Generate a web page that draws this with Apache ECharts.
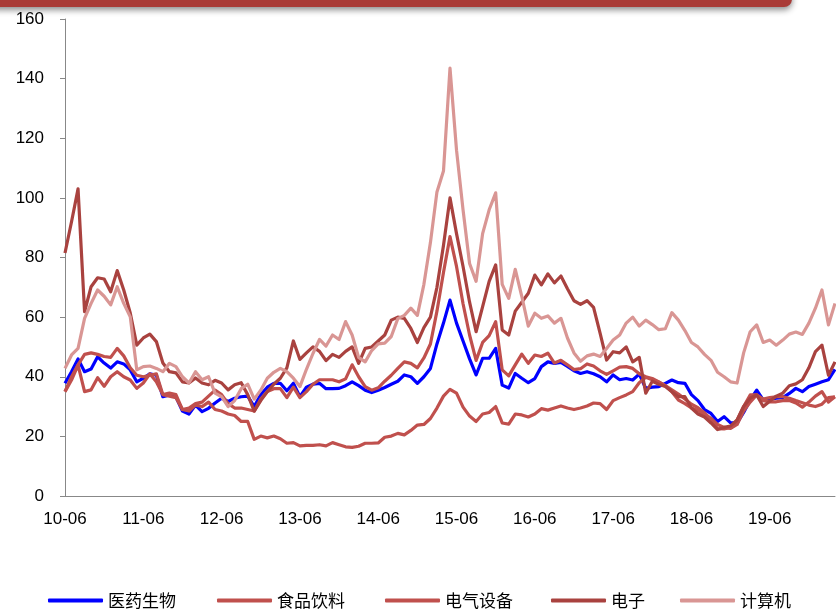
<!DOCTYPE html>
<html><head><meta charset="utf-8">
<script src="https://cdn.jsdelivr.net/npm/echarts@6/dist/echarts.min.js"></script>
<style>html,body{margin:0;padding:0;background:#fff}#c{width:836px;height:609px}</style>
</head><body><div id="c"></div>
<script>
// Monthly categories 2010-06 .. 2020-04
const startYear = 2010, startMonth = 6, nPoints = 119;
const categories = [];
for (let i = 0; i < nPoints; i++) {
  const m = startMonth - 1 + i;
  const y = startYear + Math.floor(m / 12);
  const mm = (m % 12) + 1;
  categories.push(String(y).slice(2) + '-' + (mm < 10 ? '0' + mm : mm));
}
const tickLabels = ['10-06','11-06','12-06','13-06','14-06','15-06','16-06','17-06','18-06','19-06'];
const yTicks = [0, 20, 40, 60, 80, 100, 120, 140, 160];

const names = ['医药生物','食品饮料','电气设备','电子','计算机'];

const yiyao = [37.8,41.7,46,41.7,42.6,46.7,44.6,42.9,45,44.3,42.3,38.3,39.5,41,40.5,33.3,33.9,33.3,28.5,27.5,
30.5,28.3,29.4,31.2,32.8,31.7,32.8,33.3,33.5,30,34,36.5,37.8,37.8,35.3,37.8,33.3,36.5,37.5,37.8,
36,36,36.1,37,38.3,37,35.5,34.7,35.5,36.4,37.5,38.5,40.6,40,37.8,40,42.8,51,58,65.7,
58,52,46,40.6,46.2,46.2,49.5,37.2,36.2,41.1,39.5,38,39.4,43.4,45,44.5,44.8,43.5,42,41.1,
41.7,41,40,38.3,40.6,39,39.4,38.9,40.9,36.1,36.5,36.7,37.8,38.9,38,37.8,34,32,29,27.7,
25,26.6,24.5,24.5,28,32.2,35.5,32.2,32.4,32.8,33,34.4,36.1,35,36.7,37.5,38.3,39,42.5];

const shipin = [35,38.9,43.9,35,35.6,39.7,36.8,40,41.7,40,38.9,36.1,37.9,41,38.3,34,33.5,33,29,28.5,
30.5,30,31.5,29,28.5,27.5,27,25,25,19,20.1,19.5,20.1,19.2,17.7,17.9,16.8,17,17,17.2,
16.8,17.9,17.2,16.5,16.3,16.7,17.7,17.7,17.8,19.7,20.1,21,20.5,22,23.8,24,26,29.5,33.5,35.8,
34.5,29.8,26.8,25,27.5,28,30,24.5,24.1,27.5,27.2,26.5,27.5,29.3,28.8,29.5,30.2,29.5,29,29.5,
30.2,31.2,31,29,32,33,33.9,35,38,39.8,39,38.2,37,35,32.2,31,29.5,28.7,27.2,26,
24,23,22.7,24,28.5,31.5,33.9,32,31.6,31.6,32,32,31.2,29.8,31.5,33.5,35,31.5,33.3];

const dianqi = [35,40,44,47.5,48,47.5,46.8,46.5,49.5,47,43,40.5,40,40.5,41,34,34.5,34,29,29.5,
31,31.5,33.5,35.5,34,31,29.5,29.5,29,28.5,32.5,35,36,36,33,36.5,33,35,37.5,39,
39,39,38.3,39.3,44,40,36.7,35.5,36.3,38.5,40.5,42.8,45,44.5,43,46.3,51,62,75,87,
77,64.5,54,45.5,51.5,53.8,58.5,42.3,40.3,44,47.6,44.5,47.3,46.8,47.9,44.6,45.5,44,42.4,42.7,
44.3,43.6,42,40.8,42,43.2,43.4,42.8,41,40,39.4,38.3,37,35.6,34.2,32.5,30.8,29.6,27.9,25.8,
22.6,22.5,23,25.5,30,33.9,33.9,32.5,33,33.3,33.3,32.8,32,31.3,30.5,30,30.8,33,33.3];

const dianzi = [81.5,92,103,61.8,70.2,73.2,72.8,68.5,75.6,69.1,61.4,50.6,53,54.3,51.8,44.6,41.7,41.3,38.3,37.9,
39.6,37.9,37.3,38.8,37.9,35.6,37.3,38,34,28.5,32,35,37.5,39.5,43,52,45.8,48,50,48.5,
45.4,47.5,46.5,48.5,50,44.5,49.5,50,52,54,59,60,59.6,56.2,51.5,56.5,60,70,84,100,
88,77,65,55.1,63.5,72,77.5,55.7,54,62,65,68,74.1,70.8,74.5,71.5,73.8,69.5,65.5,64.3,
65.5,63.3,54.6,45.6,48.4,48,50,45,46.5,34.5,38.5,37.5,36.7,35,33.3,33.3,29.5,27.5,26.5,24.5,
22.3,23,23.5,25.5,30,32.8,33.9,30,31.8,33.5,34.5,37,37.6,39,43,48.4,50.6,40.5,45];

const jisuanji = [42.8,47.3,49.5,59.6,64.6,69.1,67,64.1,70.2,64.6,60.1,42.3,43.4,43.6,42.8,41.7,44.5,43.4,40,37.9,
41.7,39,40,34.5,33.3,30,32,36,37.5,32.5,35.5,39.5,41.5,42.8,41.7,39.5,36.7,42.5,47.8,52.5,
50.3,54,52.5,58.5,54,46.5,45,48.8,51,51.3,53.5,59.5,60.6,63,60.6,71,85,102,109,143.5,
116,96,78,72,88,96,101.7,71,66.3,76,67,57,61.3,59.6,60.4,58,59.6,53,48,45.2,
47,47.6,46.8,49.5,52.3,54,58,60,57,59,57.5,55.8,56.1,61.5,59,55.5,51.5,50,47.5,45.5,
41.5,40,38.3,37.9,48,55.1,57.4,51.5,52.3,50.6,52.3,54.3,55,54.2,58,63,69.1,57.4,64.6];

const seriesData = [yiyao, shipin, dianqi, dianzi, jisuanji];
const colors = ['#0000FF', '#C0504D', '#C0504D', '#A9423F', '#D99694'];
const legendLeft = [48, 217, 385, 551, 680];

const chart = echarts.init(document.getElementById('c'));
const option = {
  backgroundColor: '#fff',
  animation: false,
  graphic: [{
    type: 'rect',
    shape: { x: -10, y: -10, width: 802, height: 17, r: [0, 0, 8, 0] },
    style: { fill: '#A93B37', shadowBlur: 6, shadowColor: 'rgba(0,0,0,0.45)', shadowOffsetY: 3 },
    z: 10
  }],
  grid: { left: 65, right: 1, top: 19, bottom: 113, containLabel: false },
  legend: names.map((n, i) => ({
    data: [n], left: legendLeft[i], top: 591, padding: 0,
    itemWidth: 55, itemHeight: 4, icon: 'roundRect', itemGap: 0,
    textStyle: { fontFamily: 'Noto Sans CJK SC', fontSize: 17, lineHeight: 19, color: '#000' }
  })),
  xAxis: {
    type: 'category', data: categories, boundaryGap: false,
    axisLine: { lineStyle: { color: '#888', width: 1 } },
    axisTick: { show: false },
    axisLabel: {
      interval: (idx, v) => tickLabels.indexOf(v) >= 0,
      margin: 15, fontFamily: 'Liberation Sans, Arial', fontSize: 17, color: '#000'
    },
    splitLine: { show: false }
  },
  yAxis: {
    type: 'value', min: yTicks[0], max: yTicks[yTicks.length - 1], interval: 20,
    axisLine: { show: true, lineStyle: { color: '#888', width: 1 } },
    axisTick: { show: true, length: 5, lineStyle: { color: '#888' } },
    axisLabel: { margin: 21, fontFamily: 'Liberation Sans, Arial', fontSize: 17, color: '#000' },
    splitLine: { show: false }
  },
  series: names.map((n, i) => ({
    name: n, type: 'line', data: seriesData[i], showSymbol: false, symbol: 'none',
    lineStyle: { color: colors[i], width: 3.2, join: 'round' },
    itemStyle: { color: colors[i] },
    z: 2 + i
  }))
};
chart.setOption(option);
</script></body></html>
